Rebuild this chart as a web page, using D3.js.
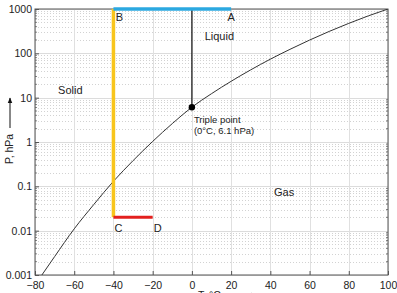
<!DOCTYPE html>
<html lang="en">
<head>
<meta charset="utf-8">
<title>Phase diagram of water</title>
<script src="https://cdn.jsdelivr.net/npm/d3@7"></script>
<style>
	body { margin: 0; background: #fff; }
	svg { font-family: "Liberation Sans", Arial, sans-serif; }
	.tick text { fill: #222; font-size: 10.5px; }
</style>
</head>
<body>
<div id="chart"></div>
<script>
	// saturation curve
	var curveT = [-76.5, -70, -60, -50, -40, -30, -20, -10, 0, 10, 20, 30, 40, 50, 60, 70, 80, 90, 100];
	var curveP = [0.001, 0.0026, 0.011, 0.039, 0.13, 0.38, 1.03, 2.6, 6.1, 12.3, 23.4, 42.4, 73.8, 123, 199, 312, 474, 701, 1000];

	var xTicks = [-80, -60, -40, -20, 0, 20, 40, 60, 80, 100];
	var yTicks = [0.001, 0.01, 0.1, 1, 10, 100, 1000];
	var yTickLabels = ["0.001", "0.01", "0.1", "1", "10", "100", "1000"];

	// process paths A-B, B-C, C-D
	var pathAB = { t: [20, -40], p: [1000, 1000] };
	var pathBC = { t: [-40, -40], p: [1000, 0.02] };
	var pathCD = { t: [-40, -20], p: [0.02, 0.02] };
	var triple = { t: 0, p: 6.1 };

	var pointNames = ["A", "B", "C", "D"];
	var pointT = [20, -40, -40, -20];
	var pointP = [1000, 1000, 0.02, 0.02];

	var regionNames = ["Solid", "Liquid", "Gas"];
	var regionT = [-62, 14, 47];
	var regionP = [12, 200, 0.06];

	var w = 397, h = 293;
	var padL = 35, padR = 388, padT = 9, padB = 275;

	var svg = d3.select("#chart").append("svg").attr("width", w).attr("height", h);

	var xScale = d3.scaleLinear().domain([-80, 100]).range([padL, padR]);
	var yScale = d3.scaleLog().domain([0.001, 1000]).range([padB, padT]);

	// minor grid (dotted) for 2..9 in every decade
	var minor = [];
	for (var d = -3; d < 3; d++) {
		for (var k = 2; k <= 9; k++) minor.push(k * Math.pow(10, d));
	}
	svg.append("g").selectAll("line")
		.data(minor).enter().append("line")
		.attr("x1", padL).attr("x2", padR)
		.attr("y1", function(d) { return Math.round(yScale(d)) + 0.5; })
		.attr("y2", function(d) { return Math.round(yScale(d)) + 0.5; })
		.attr("stroke", "#d2d2d2").attr("stroke-width", 1)
		.attr("stroke-dasharray", "1,2");

	// major grid
	svg.append("g").selectAll("line")
		.data(yTicks).enter().append("line")
		.attr("x1", padL).attr("x2", padR)
		.attr("y1", function(d) { return Math.round(yScale(d)) + 0.5; })
		.attr("y2", function(d) { return Math.round(yScale(d)) + 0.5; })
		.attr("stroke", "#dcdcdc").attr("stroke-width", 1);
	svg.append("g").selectAll("line")
		.data(xTicks).enter().append("line")
		.attr("y1", padT).attr("y2", padB)
		.attr("x1", function(d) { return Math.round(xScale(d)) + 0.5; })
		.attr("x2", function(d) { return Math.round(xScale(d)) + 0.5; })
		.attr("stroke", "#e0e0e0").attr("stroke-width", 1);

	// axes
	var xAxis = d3.axisBottom(xScale).tickValues(xTicks).tickSize(-4).tickPadding(7)
		.tickFormat(function(d) { return d < 0 ? "\u2212" + Math.abs(d) : d; });
	var yAxis = d3.axisLeft(yScale).tickValues(yTicks).tickSize(-4).tickPadding(3)
		.tickFormat(function(d, i) { return yTickLabels[i]; });

	svg.append("g")
		.attr("transform", "translate(0," + padB + ")")
		.call(xAxis)
		.call(function(g) { g.select(".domain").remove(); g.selectAll("line").attr("stroke", "#555"); });
	svg.append("g")
		.attr("transform", "translate(" + padL + ",0)")
		.call(yAxis)
		.call(function(g) { g.select(".domain").remove(); g.selectAll("line").attr("stroke", "#555"); });

	// minor ticks on left and right edges
	[padL, padR].forEach(function(xp, side) {
		svg.append("g").selectAll("line")
			.data(minor).enter().append("line")
			.attr("x1", xp).attr("x2", side ? xp - 2 : xp + 2)
			.attr("y1", function(d) { return yScale(d); })
			.attr("y2", function(d) { return yScale(d); })
			.attr("stroke", "#666").attr("stroke-width", 0.8);
	});

	// frame
	svg.append("rect")
		.attr("x", padL).attr("y", padT)
		.attr("width", padR - padL).attr("height", padB - padT)
		.attr("fill", "none").attr("stroke", "#555").attr("stroke-width", 1);

	svg.append("clipPath").attr("id", "clip")
		.append("rect").attr("x", padL).attr("y", padT)
		.attr("width", padR - padL).attr("height", padB - padT);

	// saturation curve
	var line = d3.line()
		.x(function(d) { return xScale(d[0]); })
		.y(function(d) { return yScale(d[1]); })
		.curve(d3.curveMonotoneX);
	svg.append("path")
		.datum(d3.zip(curveT, curveP))
		.attr("d", line)
		.attr("clip-path", "url(#clip)")
		.attr("fill", "none").attr("stroke", "#333").attr("stroke-width", 1);

	// vertical line above triple point
	svg.append("line")
		.attr("x1", xScale(triple.t)).attr("x2", xScale(triple.t))
		.attr("y1", yScale(1000)).attr("y2", yScale(triple.p))
		.attr("stroke", "#111").attr("stroke-width", 1.2);

	var straight = d3.line()
		.x(function(d) { return xScale(d[0]); })
		.y(function(d) { return yScale(d[1]); });

	svg.append("path").datum(d3.zip(pathBC.t, pathBC.p)).attr("d", straight)
		.attr("fill", "none").attr("stroke", "#f8c51c").attr("stroke-width", 3.5);
	svg.append("path").datum(d3.zip(pathAB.t, pathAB.p)).attr("d", straight)
		.attr("fill", "none").attr("stroke", "#2ba8e0").attr("stroke-width", 3.5);
	svg.append("path").datum(d3.zip(pathCD.t, pathCD.p)).attr("d", straight)
		.attr("fill", "none").attr("stroke", "#e3201e").attr("stroke-width", 3);

	svg.append("circle")
		.attr("cx", xScale(triple.t)).attr("cy", yScale(triple.p))
		.attr("r", 3.2).attr("fill", "#000");

	// point labels
	var pointDx = [0, 6, 5, 5];
	var pointDy = [12, 12, 15, 15];
	svg.append("g").selectAll("text")
		.data(pointNames).enter().append("text")
		.attr("x", function(d, i) { return xScale(pointT[i]) + pointDx[i]; })
		.attr("y", function(d, i) { return yScale(pointP[i]) + pointDy[i]; })
		.attr("text-anchor", "middle")
		.attr("font-size", 11).attr("fill", "#222")
		.text(function(d) { return d; });

	// region labels
	svg.append("g").selectAll("text")
		.data(regionNames).enter().append("text")
		.attr("x", function(d, i) { return xScale(regionT[i]); })
		.attr("y", function(d, i) { return yScale(regionP[i]); })
		.attr("text-anchor", "middle")
		.attr("font-size", 11).attr("fill", "#222")
		.text(function(d) { return d; });

	// triple point annotation
	var tp = svg.append("text")
		.attr("x", xScale(triple.t) + 2).attr("y", yScale(triple.p) + 16)
		.attr("font-size", 9.5).attr("fill", "#222");
	tp.append("tspan").text("Triple point");
	tp.append("tspan").attr("x", xScale(triple.t) + 2).attr("dy", 11).text("(0\u00b0C, 6.1 hPa)");

	// axis titles with arrows
	var defs = svg.append("defs");
	defs.append("marker").attr("id", "arrow")
		.attr("viewBox", "0 0 10 10").attr("refX", 9).attr("refY", 5)
		.attr("markerWidth", 6).attr("markerHeight", 6).attr("orient", "auto")
		.append("path").attr("d", "M0,1L10,5L0,9z").attr("fill", "#111");

	svg.append("text")
		.attr("transform", "translate(13,164) rotate(-90)")
		.attr("font-size", 10.5).attr("fill", "#222")
		.text("P, hPa");
	svg.append("line")
		.attr("x1", 10).attr("x2", 10).attr("y1", 128).attr("y2", 98)
		.attr("stroke", "#111").attr("stroke-width", 1)
		.attr("marker-end", "url(#arrow)");

	svg.append("text")
		.attr("x", 198).attr("y", 299)
		.attr("font-size", 10.5).attr("fill", "#222")
		.text("T, \u00b0C");
	svg.append("line")
		.attr("x1", 226).attr("x2", 256).attr("y1", 295).attr("y2", 295)
		.attr("stroke", "#111").attr("stroke-width", 1)
		.attr("marker-end", "url(#arrow)");
</script>
</body>
</html>
